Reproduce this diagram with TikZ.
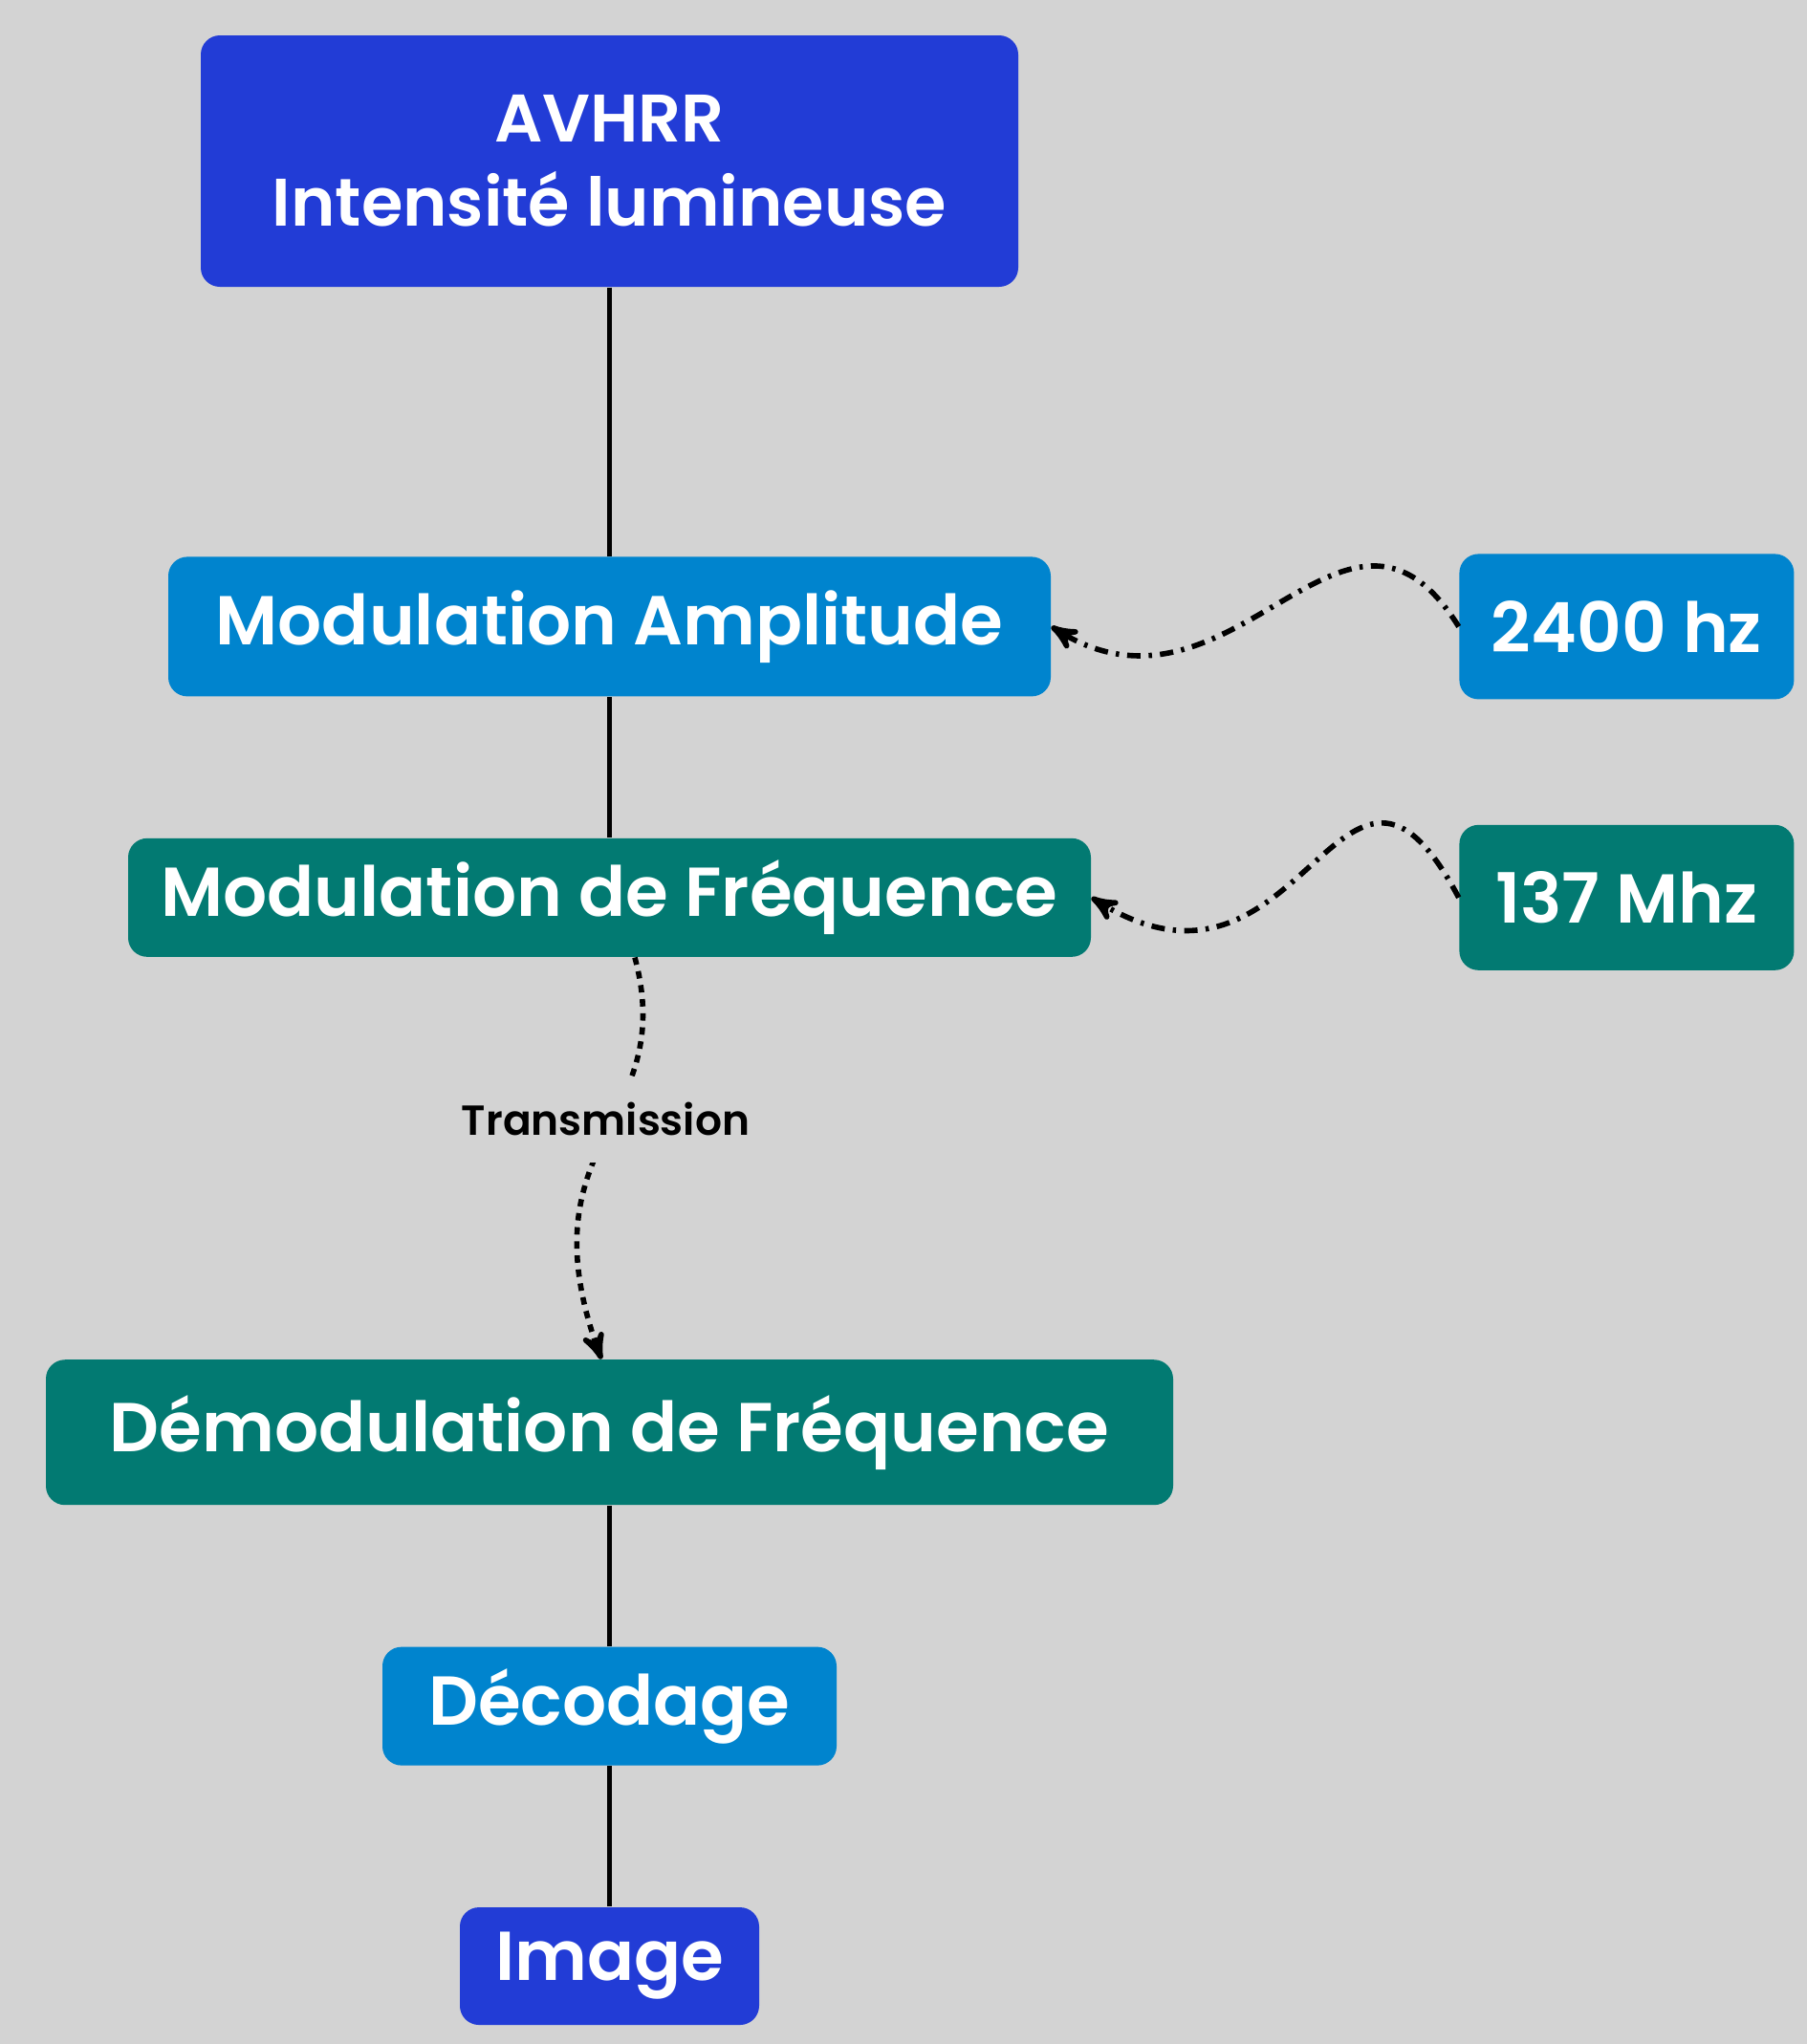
\documentclass[tikz,border=0pt]{standalone}
\usepackage{fontspec}
\setmainfont{Poppins SemiBold}
\usetikzlibrary{arrows,positioning}
\definecolor{bgcol}{RGB}{211,211,211}
\definecolor{deepblue}{RGB}{34,60,214}
\definecolor{skyblue}{RGB}{0,132,206}
\definecolor{seagreen}{RGB}{2,122,114}
\tikzset{
flow/.style={>=stealth',node distance=1.47cm},
block/.style={rectangle,rounded corners=2mm,text=white,inner sep=0pt,
align=center,font=\fontsize{20.6}{25}\selectfont},
deep/.style={block,fill=deepblue},
sky/.style={block,fill=skyblue},
sea/.style={block,fill=seagreen},
link/.style={line width=1.6pt},
wave/.style={->,line width=1.6pt,dash pattern=on 4pt off 2.4pt on 1pt off 2.4pt},
hop/.style={->,line width=1.6pt,dash pattern=on 2.2pt off 2pt},
}

\begin{document}
\begin{tikzpicture}[flow]
                    \fill[bgcol] (0,0) rectangle (18.9,-21.38);
                    \node[deep,minimum width=8.55cm,minimum height=2.63cm,font=\fontsize{20}{25}\selectfont] (avhrr) at (6.375,-1.685) {AVHRR\\Intensité lumineuse};
                    \node[sky,minimum width=9.23cm,minimum height=1.46cm] (amp) [below=2.81cm of avhrr] {Modulation Amplitude};
                    \node[sea,minimum width=10.07cm,minimum height=1.24cm] (freq) [below=of amp] {Modulation de Fréquence};
                    \node[sea,minimum width=11.79cm,minimum height=1.52cm] (demod) [below=4.2cm of freq] {Démodulation de Fréquence};
                    \node[sky,minimum width=4.75cm,minimum height=1.24cm] (decod) [below=of demod] {Décodage};
                    \node[deep,minimum width=3.13cm,minimum height=1.23cm] (img) [below=of decod] {Image};
                    \node[sky,minimum width=3.5cm,minimum height=1.52cm] (hz) [right=4.26cm of amp] {2400 hz};
                    \node[sea,minimum width=3.5cm,minimum height=1.52cm] (mhz) [right=3.84cm of freq] {137 Mhz};

                    \draw[link] (avhrr) -- (amp);
                    \draw[link] (amp) -- (freq);
                    \draw[link] (demod) -- (decod);
                    \draw[link] (decod) -- (img);
                    \draw[wave] (hz.west) to[out=122,in=-32,looseness=1.35] (amp.east);
                    \draw[wave] (mhz.west) to[out=118,in=-32,looseness=1.75] (freq.east);
                    \draw[hop] ([xshift=2.65mm]freq.south) to[out=-75,in=110,out looseness=1.1,in looseness=1.5]
                        node[pos=0.44,xshift=-0.8mm,fill=bgcol,inner xsep=1mm,inner ysep=2.75mm,font=\fontsize{12.5}{15}\selectfont] (tx) {Transmission}
                        ([xshift=-0.85mm]demod.north);
                \end{tikzpicture}
\end{document}
